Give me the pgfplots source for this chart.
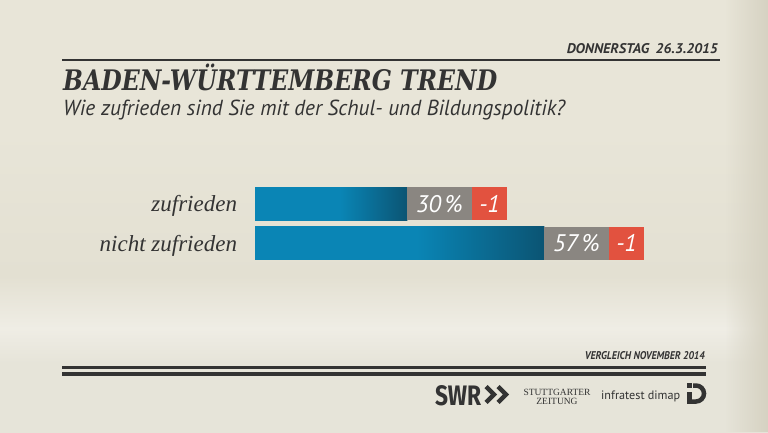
\documentclass[border=0pt]{standalone}
\usepackage{pgfplots}
\pgfplotsset{compat=1.18}
\usetikzlibrary{fadings}
\usepackage{fontspec}
\setmainfont{PT Sans}
\newfontfamily\titlefont{DejaVu Serif}
\newfontfamily\ptsans{PT Sans}
\newfontfamily\serifit{Liberation Serif}
\newfontfamily\firasans{Fira Sans}

\definecolor{bgtop}{HTML}{E8E5D8}
\definecolor{bgmid}{HTML}{E3E0D2}
\definecolor{bgband}{HTML}{EFEDE5}
\definecolor{bgbot}{HTML}{E6E4D9}
\definecolor{bgedge}{HTML}{D6D2C2}
\definecolor{txt}{HTML}{333333}
\definecolor{barblue}{HTML}{0A85B5}
\definecolor{bardark}{HTML}{0B5473}
\definecolor{boxgrey}{HTML}{8A8681}
\definecolor{boxred}{HTML}{E2523F}

\pgfdeclarehorizontalshading{barshade}{100bp}{color(0bp)=(barblue); color(25bp)=(barblue); color(53bp)=(barblue); color(75bp)=(bardark); color(100bp)=(bardark)}
\pgfdeclareverticalshading{bgshade}{100bp}{color(0bp)=(bgbot); color(25bp)=(bgbot); color(33bp)=(bgbot); color(37bp)=(bgband); color(43bp)=(bgmid); color(60bp)=(bgtop); color(100bp)=(bgtop)}

\begin{document}
\begin{tikzpicture}
% background
\shade[shading=bgshade] (0pt,0pt) rectangle (768pt,432pt);
\fill[bgedge, path fading=west] (725pt,0pt) rectangle (768pt,432pt);

% date and top rule
\node[anchor=base east, inner sep=0pt, text=txt] at (718pt,378.5pt) {\resizebox{151pt}{10pt}{\ptsans\bfseries\itshape DONNERSTAG\hspace{0.45em}26.3.2015}};
\draw[txt, line width=2pt] (62pt,371.5pt) -- (720pt,371.5pt);

% title and subtitle
\node[anchor=base west, inner sep=0pt, text=txt] at (63pt,341pt) {\resizebox{434pt}{21pt}{\titlefont\bfseries\itshape BADEN-W\smash{Ü}RTTEMBERG TREND}};
\node[anchor=base west, inner sep=0pt, text=txt] at (63pt,317pt) {\resizebox{502pt}{15.5pt}{\ptsans\itshape\fontsize{23}{23}\selectfont Wie zufrieden sind Sie mit der Schul- und Bildungspolitik?}};

% chart
\begin{axis}[
  at={(255pt,168.95pt)}, anchor=south west,
  x=5.075pt, y=39.5pt,
  xmin=0, xmax=100, ymin=0.5, ymax=2.5,
  xbar, bar width=33pt, bar shift=0pt,
  axis line style={draw=none}, tick style={draw=none},
  xtick=\empty, ytick={1,2}, yticklabels={nicht zufrieden, zufrieden},
  yticklabel style={font=\serifit\itshape\fontsize{23}{23}\selectfont, text=txt, inner sep=0pt, anchor=base east, xshift=-13.5pt, yshift=-7.9pt},
  clip=false,
  point meta=explicit symbolic,
  visualization depends on={x \as \rawx},
  nodes near coords={\pgfmathprintnumber[assume math mode=true]{\rawx}\,\%},
  every node near coord/.style={anchor=west, fill=boxgrey, text=white, inner sep=0pt, outer sep=0pt,
    minimum width=64.5pt, minimum height=33pt, font=\ptsans\itshape\fontsize{24}{24}\selectfont,
    label={[fill=boxred, text=white, inner sep=0pt, outer sep=0pt, minimum width=35.7pt, minimum height=33pt,
      font=\ptsans\itshape\fontsize{24}{24}\selectfont, label distance=0pt]east:\pgfplotspointmeta}},
]
\addplot[draw=none, shading=barshade, bar shift=0pt] coordinates {(57,1) [-1]};
\addplot[draw=none, shading=barshade, bar shift=0pt] coordinates {(30,2) [-1]};
\end{axis}

% footer
\node[anchor=base east, inner sep=0pt, text=txt] at (705pt,73pt) {\resizebox{120pt}{8pt}{\ptsans\bfseries\itshape VERGLEICH NOVEMBER 2014}};
\draw[txt, line width=3pt] (62pt,65pt) -- (706pt,65pt);
\draw[txt, line width=3.5pt] (62pt,58pt) -- (706pt,58pt);

% logos
\node[anchor=base west, inner sep=0pt, text=txt] at (435pt,27pt) {\resizebox{46pt}{20pt}{\firasans\bfseries SWR}};
\draw[txt, line width=4.5pt, line cap=butt, line join=miter] (486pt,45.5pt) -- (494pt,37.5pt) -- (486pt,29.5pt);
\draw[txt, line width=4.5pt, line cap=butt, line join=miter] (498pt,45.5pt) -- (506pt,37.5pt) -- (498pt,29.5pt);
\node[anchor=base, inner sep=0pt, text=txt, font=\serifit\fontsize{9.5}{9.5}\selectfont] at (557pt,37pt) {STUTTGARTER};
\node[anchor=base, inner sep=0pt, text=txt, font=\serifit\fontsize{9.5}{9.5}\selectfont] at (557pt,28pt) {ZEITUNG};
\node[anchor=base west, inner sep=0pt, text=txt] at (601pt,33pt) {\resizebox{79pt}{!}{\ptsans\fontsize{18}{18}\selectfont infratest dimap}};
\fill[txt] (687pt,44.5pt) rectangle (692pt,49pt);
\fill[txt] (687pt,28.25pt) rectangle (692pt,40pt);
\draw[txt, line width=4.5pt] (693pt,46.5pt) -- (696pt,46.5pt) arc (90:-90:8pt) -- (689.5pt,30.5pt);
\end{tikzpicture}
\end{document}
